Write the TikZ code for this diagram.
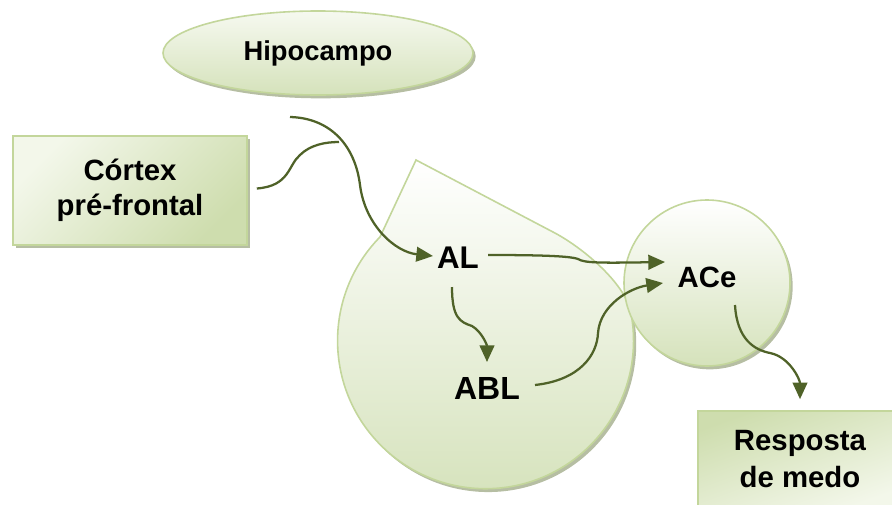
\documentclass[tikz,border=0pt]{standalone}
\usepackage{fontspec}
\setmainfont{Liberation Sans}
\usetikzlibrary{arrows.meta,shapes.geometric,shadows}
\definecolor{edgec}{HTML}{C3D69B}
\definecolor{arrowc}{HTML}{4F6228}
\definecolor{shadc}{HTML}{A4AE8C}
\definecolor{lightc}{HTML}{F6F9F0}
\definecolor{darkc}{HTML}{D5E2BB}
\definecolor{boxdark}{HTML}{CEDDAE}
\definecolor{boxlight}{HTML}{F3F7EA}
\begin{document}
\begin{tikzpicture}[x=0.75pt,y=-0.75pt,
  lbl/.style={font=\fontsize{20.5}{26.5}\selectfont\bfseries, align=center, text=black},
  conn/.style={draw=arrowc, line width=1.7pt, -{Triangle[length=12.5pt,width=11pt]}},
  link/.style={draw=arrowc, line width=1.7pt},
  dshadow/.style={drop shadow={shadow xshift=2pt, shadow yshift=-2.5pt, fill=shadc, opacity=0.8}},
  greenbox/.style={draw=edgec, line width=1.2pt}]
\clip (0,0) rectangle (892,504);
% amygdala drop shape
\path[greenbox, dshadow, top color=white, bottom color=darkc]
  (416,160) -- (380,237) arc[start angle=224.5, end angle=-10, radius=148]
  .. controls (628,286) and (584,248) .. (553,232) -- cycle;
% nodes
\node[ellipse, greenbox, dshadow, top color=lightc, bottom color=darkc,
      minimum width=232.5pt, minimum height=63pt, lbl] (hip) at (318,53) {Hipocampo};
\node[rectangle, greenbox, dshadow, top color=boxlight, bottom color=boxdark, shading angle=45,
      minimum width=175.5pt, minimum height=81.75pt, lbl, font=\fontsize{22}{26.5}\selectfont\bfseries] (ctx) at (130,190.5) {Córtex\\pré-frontal};
\node[circle, greenbox, dshadow, top color=white, bottom color=darkc,
      minimum size=124.5pt] (ace) at (707,283) {};
\node[lbl, font=\fontsize{22}{26.5}\selectfont\bfseries] (acet) at (707,277) {ACe};
\node[rectangle, greenbox, dshadow, top color=boxdark, bottom color=boxlight, shading angle=20,
      minimum width=153pt, minimum height=72pt, lbl, font=\fontsize{22}{28}\selectfont\bfseries] (resp) at (800,459) {Resposta\\de medo};
\node[lbl, font=\fontsize{23.5}{28}\selectfont\bfseries] (al) at (458,258) {AL};
\node[lbl, font=\fontsize{24}{28}\selectfont\bfseries] (abl) at (487,388) {ABL};
\coordinate (merge) at (339,142);
% connectors
\draw[conn] ([shift={(-28,64)}]hip.center) .. controls (330,118) and (355,145) .. (360,185)
  .. controls (365,225) and (395,252) .. ([shift={(-25,-2)}]al.center);
\draw[link] ([shift={(9,-2)}]ctx.east) .. controls (290,186) and (288,165) .. (300,155)
  .. controls (310,145) and (325,142) .. (merge);
\draw[conn] ([shift={(30,-3)}]al.center) .. controls (540,255) and (570,256) .. (578,259)
  .. controls (584,263) and (600,263) .. ([shift={(-42,-21)}]ace.center);
\draw[conn] ([shift={(-6,29)}]al.center) .. controls (452,318) and (460,322) .. (472,326)
  .. controls (482,332) and (487,345) .. ([shift={(0,-26)}]abl.center);
\draw[conn] ([shift={(48,-3)}]abl.center) .. controls (580,380) and (597,355) .. (598,333)
  .. controls (600,305) and (630,288) .. ([shift={(-44,0)}]ace.center);
\draw[conn] ([shift={(28,22)}]ace.center) .. controls (737,340) and (755,350) .. (770,353)
  .. controls (790,357) and (800,380) .. ([shift={(0,-11)}]resp.north);
\end{tikzpicture}
\end{document}
